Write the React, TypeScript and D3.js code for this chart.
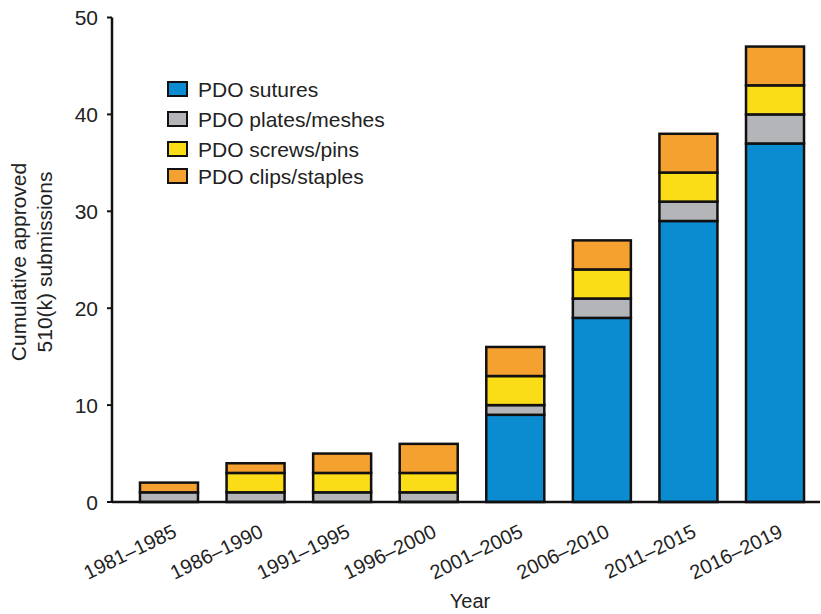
import React from "react";
import * as d3 from "d3";

const categories = ["1981–1985", "1986–1990", "1991–1995", "1996–2000", "2001–2005", "2006–2010", "2011–2015", "2016–2019"];
const sutures = [0, 0, 0, 0, 9, 19, 29, 37];
const plates = [1, 1, 1, 1, 1, 2, 2, 3];
const screws = [0, 2, 2, 2, 3, 3, 3, 3];
const clips = [1, 1, 2, 3, 3, 3, 4, 4];
const seriesNames = ["PDO sutures", "PDO plates/meshes", "PDO screws/pins", "PDO clips/staples"];
const yTicks = [0, 10, 20, 30, 40, 50];

const colors = ["#0b8bd0", "#b4b5b8", "#fadc17", "#f5a130"];
const W = 821, H = 614;
const FONT = "'Liberation Sans', Arial, Helvetica, sans-serif";

export default function App() {
  const keys = ["s", "p", "c", "k"];
  const rows = categories.map((cat, i) => ({ cat, s: sutures[i], p: plates[i], c: screws[i], k: clips[i] }));
  const stack = d3.stack<any>().keys(keys)(rows);
  const x = d3.scaleBand().domain(categories).range([125.7, 818.3]).paddingInner(0.33).paddingOuter(0.165);
  const y = d3.scaleLinear().domain([0, 50]).range([502, 17.5]);
  const axisX0 = 112;

  return (
    <svg width={W} height={H} style={{ position: "absolute", left: 0, top: 0, background: "#fff" }} fontFamily={FONT}>
      {stack.map((layer, li) => (
        <g key={li}>
          {layer.map((d, i) => {
            const h = y(d[0]) - y(d[1]);
            if (h <= 0) return null;
            return (
              <rect key={i} x={x(categories[i])!} y={y(d[1])} width={x.bandwidth()} height={h}
                fill={colors[li]} stroke="#111" strokeWidth={2.5} />
            );
          })}
        </g>
      ))}
      {/* axes */}
      <line x1={axisX0} x2={820} y1={y(0)} y2={y(0)} stroke="#111" strokeWidth={2.5} />
      <line x1={axisX0} x2={axisX0} y1={y(50)} y2={y(0)} stroke="#111" strokeWidth={2.5} />
      {yTicks.map(t => (
        <g key={t}>
          <line x1={axisX0 - 5} x2={axisX0} y1={y(t)} y2={y(t)} stroke="#111" strokeWidth={2} />
          <text x={98} y={y(t)} dy="0.36em" textAnchor="end" fontSize={21} fill="#222">{t}</text>
        </g>
      ))}
      {categories.map(c => (
        <text key={c} transform={`translate(${x(c)! + x.bandwidth() / 2 + 9},${y(0) + 34}) rotate(-26)`}
          textAnchor="end" fontSize={20} fill="#222">{c}</text>
      ))}
      <text x={470} y={608} textAnchor="middle" fontSize={20} fill="#222">Year</text>
      <text transform={`translate(26,262) rotate(-90)`} textAnchor="middle" fontSize={21} fill="#222">Cumulative approved</text>
      <text transform={`translate(52,262) rotate(-90)`} textAnchor="middle" fontSize={21} fill="#222">510(k) submissions</text>
      {/* legend */}
      {seriesNames.map((n, i) => {
        const cy = [89, 119, 149, 176][i];
        return (
          <g key={n}>
            <rect x={168} y={cy - 7} width={19} height={14} fill={colors[i]} stroke="#111" strokeWidth={2} />
            <text x={198} y={cy} dy="0.36em" fontSize={21} fill="#222">{n}</text>
          </g>
        );
      })}
    </svg>
  );
}
